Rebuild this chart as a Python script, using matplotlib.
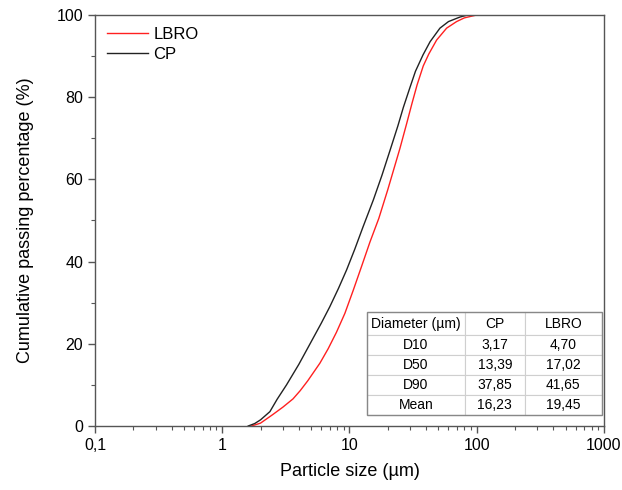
import matplotlib
matplotlib.use("Agg")
import matplotlib.pyplot as plt
import matplotlib.patches as mpatches
from matplotlib.ticker import FixedLocator, FixedFormatter, LogLocator, NullFormatter

plt.rcParams["font.family"] = ["Liberation Sans", "DejaVu Sans"]

# ─── Data ─────────────────────────────────────────────────────────────────────
cp_size = [1.6, 1.8, 2.0, 2.37, 2.7, 3.2, 4.0, 4.9, 6.0, 7.0, 8.2, 9.5, 11.0,
           12.8, 15.4, 18.0, 20.8, 24.0, 26.5, 29.9, 33.0, 37.85, 43.0, 51.4,
           60.0, 73.8, 85.0, 100.0]
cp_pass = [0, 0.6, 1.5, 3.5, 6.5, 10, 15, 20, 25, 29, 33.5, 38, 43,
           48.5, 55, 61, 67, 73, 77.5, 82.4, 86.3, 90.3, 93.5, 96.8,
           98.4, 99.5, 100, 100]

lbro_size = [1.7, 2.0, 2.5, 3.0, 3.6, 4.1, 4.7, 5.86, 6.8, 7.9, 9.2, 10.7,
             12.5, 14.5, 17.0, 20.0, 24.9, 28.1, 31.0, 34.0, 38.0, 42.0,
             48.4, 58.0, 69.5, 80.0, 100.0]
lbro_pass = [0, 0.7, 2.8, 4.6, 6.6, 8.6, 11, 15.3, 18.8, 22.8, 27.4, 33,
             39, 44.8, 50.5, 57.5, 67.5, 73.5, 78.5, 83, 87.6, 90.5,
             93.9, 96.8, 98.4, 99.3, 100]

x_ticks = [0.1, 1, 10, 100, 1000]
x_tick_labels = ["0,1", "1", "10", "100", "1000"]

table_header = ["Diameter (µm)", "CP", "LBRO"]
table_rows = [
    ["D10", "3,17", "4,70"],
    ["D50", "13,39", "17,02"],
    ["D90", "37,85", "41,65"],
    ["Mean", "16,23", "19,45"],
]

fig = plt.figure(figsize=(6.22, 4.90), dpi=100)
ax = fig.add_axes([0.1527, 0.1306, 0.8183, 0.8388])

ax.plot(lbro_size, lbro_pass, color="#ff2020", lw=1.0, label="LBRO")
ax.plot(cp_size, cp_pass, color="#222222", lw=1.0, label="CP")

ax.set_xscale("log")
ax.set_xlim(0.1, 1000)
ax.set_ylim(0, 100)
ax.xaxis.set_major_locator(FixedLocator(x_ticks))
ax.xaxis.set_major_formatter(FixedFormatter(x_tick_labels))
ax.xaxis.set_minor_locator(LogLocator(base=10, subs=range(2, 10), numticks=20))
ax.xaxis.set_minor_formatter(NullFormatter())
ax.set_yticks(range(0, 101, 20))
ax.set_yticks(range(10, 100, 20), minor=True)

for sp in ax.spines.values():
    sp.set_color("#555555")
    sp.set_linewidth(1.0)
ax.tick_params(which="both", direction="out", colors="#555555",
               labelcolor="black", labelsize=11.5, top=False, right=False)
ax.tick_params(which="major", length=5, width=1.0)
ax.tick_params(which="minor", length=3, width=0.8)

ax.set_xlabel("Particle size (µm)", fontsize=13, labelpad=7)
ax.set_ylabel("Cumulative passing percentage (%)", fontsize=13, labelpad=16)

leg = ax.legend(loc="upper left", frameon=False, fontsize=12,
                handlelength=2.5, handletextpad=0.3, labelspacing=0.3,
                borderaxespad=0.3, bbox_to_anchor=(0.0, 1.0))
for h in leg.get_lines():
    h.set_linewidth(1.0)

# ─── Summary table ────────────────────────────────────────────────────────────
tbl_bbox = [0.534, 0.027, 0.462, 0.250]
tbl = ax.table(cellText=table_rows, colLabels=table_header,
               cellLoc="center", bbox=tbl_bbox, colWidths=[98, 60, 77])
tbl.auto_set_font_size(False)
tbl.set_fontsize(10)
for (r, c), cell in tbl.get_celld().items():
    cell.set_edgecolor("#cfcfcf")
    cell.set_linewidth(0.8)
    cell.set_height(23 if r == 0 else 20)
ax.add_patch(mpatches.Rectangle((tbl_bbox[0], tbl_bbox[1]), tbl_bbox[2], tbl_bbox[3],
                                transform=ax.transAxes, fill=False,
                                edgecolor="#888888", lw=1.0, zorder=10))

fig.savefig("out.png", dpi=100)
